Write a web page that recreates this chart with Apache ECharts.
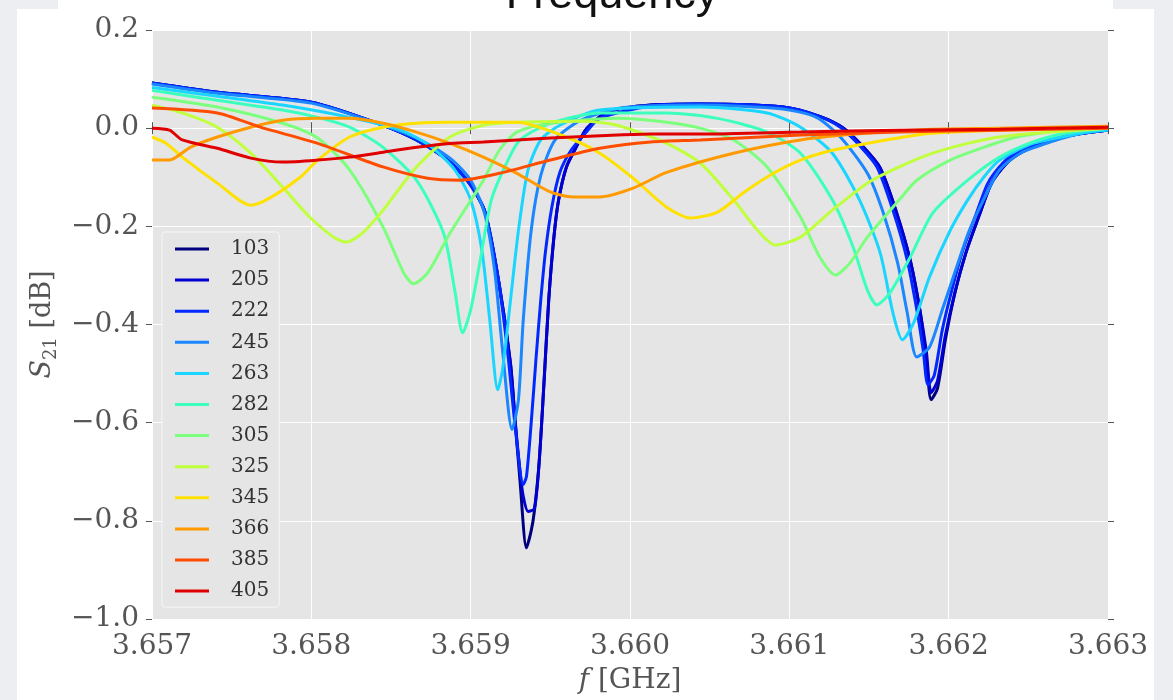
<!DOCTYPE html>
<html><head><meta charset="utf-8">
<script src="https://cdn.jsdelivr.net/npm/echarts@6/dist/echarts.min.js"></script>
<style>html,body{margin:0;padding:0;background:#eceef2;}#c{width:1173px;height:700px;}</style>
</head><body><div id="c"></div><script>
// Legend labels (temperature / power index)
const labels = ['103','205','222','245','263','282','305','325','345','366','385','405'];

// Each series: [f (GHz), S21 (dB)]
const s103 = [[3.65700,0.092],[3.65741,0.073],[3.65800,0.053],[3.65845,0.006],[3.65866,-0.024],[3.65887,-0.069],[3.65900,-0.116],[3.65909,-0.171],[3.65918,-0.32],[3.65925,-0.48],[3.65928,-0.60],[3.65931,-0.72],[3.65935,-0.855],[3.65938,-0.82],[3.65940,-0.78],[3.65943,-0.68],[3.65946,-0.52],[3.65949,-0.35],[3.65952,-0.23],[3.65955,-0.15],[3.65960,-0.08],[3.65966,-0.04],[3.65973,0.000],[3.65986,0.033],[3.66013,0.047],[3.66044,0.049],[3.66096,0.043],[3.66119,0.024],[3.66134,0.000],[3.66146,-0.037],[3.66157,-0.081],[3.66167,-0.169],[3.66176,-0.271],[3.66182,-0.372],[3.66186,-0.47],[3.66189,-0.553],[3.66193,-0.53],[3.66198,-0.43],[3.66204,-0.334],[3.66211,-0.252],[3.66219,-0.179],[3.66226,-0.118],[3.66231,-0.092],[3.66240,-0.061],[3.66255,-0.035],[3.66275,-0.016],[3.66300,-0.004]];
const s205 = [[3.65700,0.092],[3.65741,0.073],[3.65800,0.053],[3.65845,0.006],[3.65866,-0.024],[3.65887,-0.069],[3.65900,-0.116],[3.65909,-0.171],[3.65918,-0.32],[3.65925,-0.48],[3.65928,-0.60],[3.65931,-0.70],[3.65933,-0.75],[3.65936,-0.781],[3.65940,-0.775],[3.65943,-0.68],[3.65946,-0.52],[3.65949,-0.35],[3.65952,-0.23],[3.65955,-0.15],[3.65960,-0.08],[3.65966,-0.04],[3.65973,0.000],[3.65986,0.033],[3.66013,0.047],[3.66044,0.049],[3.66096,0.043],[3.66119,0.024],[3.66134,0.000],[3.66146,-0.037],[3.66157,-0.081],[3.66167,-0.169],[3.66176,-0.271],[3.66182,-0.372],[3.66186,-0.455],[3.66189,-0.539],[3.66193,-0.515],[3.66198,-0.421],[3.66204,-0.334],[3.66211,-0.252],[3.66219,-0.179],[3.66226,-0.118],[3.66231,-0.092],[3.66240,-0.061],[3.66255,-0.035],[3.66275,-0.016],[3.66300,-0.004]];
const s222 = [[3.65700,0.092],[3.65741,0.073],[3.65800,0.053],[3.65845,0.006],[3.65866,-0.024],[3.65887,-0.069],[3.65900,-0.116],[3.65909,-0.171],[3.65917,-0.30],[3.65923,-0.45],[3.65928,-0.61],[3.65933,-0.726],[3.65935,-0.71],[3.65938,-0.60],[3.65941,-0.47],[3.65944,-0.35],[3.65947,-0.25],[3.65951,-0.16],[3.65956,-0.09],[3.65963,-0.045],[3.65972,-0.01],[3.65981,0.020],[3.66013,0.045],[3.66044,0.049],[3.66096,0.043],[3.66117,0.026],[3.66132,0.002],[3.66144,-0.035],[3.66155,-0.079],[3.66165,-0.167],[3.66174,-0.269],[3.66180,-0.370],[3.66184,-0.452],[3.66187,-0.523],[3.66191,-0.503],[3.66196,-0.411],[3.66202,-0.330],[3.66209,-0.248],[3.66217,-0.177],[3.66224,-0.116],[3.66229,-0.090],[3.66238,-0.059],[3.66253,-0.035],[3.66274,-0.016],[3.66300,-0.004]];
const s245 = [[3.65700,0.090],[3.65741,0.071],[3.65800,0.051],[3.65845,0.006],[3.65866,-0.020],[3.65887,-0.061],[3.65900,-0.106],[3.65909,-0.177],[3.65915,-0.289],[3.65920,-0.452],[3.65926,-0.614],[3.65930,-0.553],[3.65933,-0.391],[3.65938,-0.208],[3.65944,-0.096],[3.65953,-0.024],[3.65969,0.016],[3.65994,0.041],[3.66044,0.047],[3.66096,0.039],[3.66117,0.022],[3.66132,-0.018],[3.66149,-0.092],[3.66159,-0.173],[3.66168,-0.275],[3.66174,-0.376],[3.66180,-0.466],[3.66188,-0.446],[3.66196,-0.370],[3.66205,-0.283],[3.66213,-0.208],[3.66224,-0.132],[3.66232,-0.085],[3.66245,-0.051],[3.66264,-0.028],[3.66284,-0.010],[3.66300,-0.004]];
const s263 = [[3.65700,0.083],[3.65741,0.065],[3.65782,0.047],[3.65824,0.022],[3.65856,-0.004],[3.65874,-0.035],[3.65890,-0.085],[3.65900,-0.146],[3.65907,-0.248],[3.65912,-0.391],[3.65917,-0.533],[3.65920,-0.492],[3.65925,-0.350],[3.65930,-0.208],[3.65936,-0.085],[3.65944,-0.024],[3.65956,0.006],[3.65981,0.037],[3.66044,0.043],[3.66086,0.031],[3.66107,0.002],[3.66127,-0.051],[3.66144,-0.146],[3.66157,-0.254],[3.66165,-0.376],[3.66171,-0.431],[3.66178,-0.397],[3.66188,-0.303],[3.66201,-0.208],[3.66212,-0.146],[3.66222,-0.100],[3.66232,-0.065],[3.66253,-0.031],[3.66284,-0.010],[3.66300,-0.004]];
const s282 = [[3.65700,0.077],[3.65741,0.057],[3.65782,0.037],[3.65804,0.022],[3.65824,0.002],[3.65845,-0.039],[3.65866,-0.106],[3.65883,-0.214],[3.65890,-0.330],[3.65895,-0.417],[3.65900,-0.370],[3.65906,-0.269],[3.65913,-0.146],[3.65922,-0.075],[3.65931,-0.024],[3.65950,0.010],[3.65981,0.031],[3.66023,0.031],[3.66055,0.020],[3.66086,-0.008],[3.66107,-0.051],[3.66127,-0.146],[3.66140,-0.242],[3.66149,-0.330],[3.66155,-0.360],[3.66163,-0.336],[3.66176,-0.262],[3.66190,-0.173],[3.66212,-0.106],[3.66232,-0.059],[3.66253,-0.028],[3.66274,-0.010],[3.66300,0.000]];
const s305 = [[3.65700,0.063],[3.65741,0.043],[3.65782,0.010],[3.65804,-0.020],[3.65824,-0.085],[3.65845,-0.201],[3.65858,-0.295],[3.65864,-0.317],[3.65873,-0.295],[3.65887,-0.214],[3.65908,-0.106],[3.65918,-0.045],[3.65929,-0.008],[3.65950,0.010],[3.65992,0.020],[3.66023,0.012],[3.66044,0.000],[3.66065,-0.024],[3.66086,-0.079],[3.66107,-0.181],[3.66119,-0.262],[3.66129,-0.299],[3.66138,-0.275],[3.66149,-0.222],[3.66169,-0.146],[3.66180,-0.106],[3.66201,-0.065],[3.66222,-0.039],[3.66243,-0.018],[3.66274,-0.004],[3.66300,0.002]];
const s325 = [[3.65700,0.047],[3.65719,0.031],[3.65741,0.002],[3.65762,-0.051],[3.65782,-0.120],[3.65799,-0.181],[3.65814,-0.222],[3.65822,-0.232],[3.65832,-0.214],[3.65845,-0.167],[3.65866,-0.079],[3.65887,-0.018],[3.65908,0.006],[3.65929,0.012],[3.65971,0.014],[3.65992,0.006],[3.66023,-0.031],[3.66044,-0.071],[3.66065,-0.146],[3.66080,-0.208],[3.66091,-0.238],[3.66107,-0.222],[3.66127,-0.167],[3.66149,-0.112],[3.66169,-0.079],[3.66190,-0.051],[3.66212,-0.031],[3.66232,-0.018],[3.66264,-0.008],[3.66300,0.000]];
const s345 = [[3.65700,-0.018],[3.65709,-0.031],[3.65719,-0.059],[3.65741,-0.112],[3.65762,-0.157],[3.65774,-0.142],[3.65793,-0.100],[3.65804,-0.065],[3.65824,-0.018],[3.65845,0.002],[3.65866,0.010],[3.65887,0.012],[3.65929,0.012],[3.65960,-0.018],[3.65981,-0.051],[3.66002,-0.102],[3.66023,-0.161],[3.66038,-0.183],[3.66055,-0.171],[3.66071,-0.132],[3.66090,-0.092],[3.66107,-0.065],[3.66127,-0.045],[3.66149,-0.031],[3.66180,-0.014],[3.66201,-0.008],[3.66232,-0.004],[3.66300,0.002]];
const s366 = [[3.65700,-0.065],[3.65711,-0.065],[3.65724,-0.039],[3.65741,-0.018],[3.65762,0.002],[3.65782,0.016],[3.65804,0.020],[3.65824,0.020],[3.65845,0.010],[3.65866,-0.008],[3.65887,-0.031],[3.65908,-0.059],[3.65929,-0.092],[3.65950,-0.130],[3.65964,-0.140],[3.65981,-0.140],[3.66002,-0.122],[3.66023,-0.090],[3.66065,-0.051],[3.66107,-0.024],[3.66149,-0.010],[3.66190,-0.002],[3.66232,0.000],[3.66300,0.004]];
const s385 = [[3.65700,0.041],[3.65741,0.031],[3.65768,0.002],[3.65804,-0.031],[3.65845,-0.079],[3.65873,-0.102],[3.65893,-0.106],[3.65918,-0.092],[3.65950,-0.065],[3.65981,-0.041],[3.66013,-0.028],[3.66044,-0.024],[3.66107,-0.014],[3.66169,-0.008],[3.66232,-0.004],[3.66300,0.000]];
const s405 = [[3.65700,0.000],[3.65711,-0.004],[3.65719,-0.024],[3.65741,-0.041],[3.65762,-0.061],[3.65782,-0.069],[3.65804,-0.065],[3.65824,-0.059],[3.65845,-0.049],[3.65866,-0.039],[3.65887,-0.031],[3.65908,-0.028],[3.65950,-0.020],[3.65992,-0.014],[3.66013,-0.012],[3.66044,-0.012],[3.66107,-0.008],[3.66169,-0.004],[3.66232,-0.002],[3.66300,0.002]];

const seriesData = [s103,s205,s222,s245,s263,s282,s305,s325,s345,s366,s385,s405];
const colors = ['#00007f','#0000d2','#0028ff','#1a86ff','#1ad6ff','#3cffbe','#7cff7c','#c0ff3c','#ffe100','#ff9a00','#ff4d00','#e00000'];

const serif = '"DejaVu Serif", serif';
const tickColor = '#555';
const chart = echarts.init(document.getElementById('c'), null, {renderer:'canvas'});
const xBase = {type:'value', min:3.657, max:3.663, interval:0.001, axisLine:{show:false},
  axisTick:{show:true, length:6, lineStyle:{color:tickColor, width:1}}};
const yBase = {type:'value', min:-1.0, max:0.2, interval:0.2, axisLine:{show:false},
  axisTick:{show:true, length:6, lineStyle:{color:tickColor, width:1}}};
const option = {
  animation:false,
  backgroundColor:'transparent',
  graphic:[
    {type:'rect', z:-100, silent:true, shape:{x:17,y:9,width:1137,height:691}, style:{fill:'#ffffff'}},
    {type:'rect', z:-100, silent:true, shape:{x:58,y:0,width:1055,height:12}, style:{fill:'#ffffff'}},
    {type:'text', z:-50, silent:true, x:612, y:-4, style:{text:'Frequency', font:'45px "Liberation Sans", Arial, sans-serif', fill:'#111', align:'center', verticalAlign:'middle'}}
  ],
  grid:{left:152, right:65, top:30, bottom:80, show:true, backgroundColor:'#e5e5e5', borderWidth:0},
  legend:{left:162, top:232, orient:'vertical', icon:'rect', itemWidth:34, itemHeight:3, itemGap:11.1,
    padding:[7,10,6,13], backgroundColor:'#e5e5e5', borderColor:'#f6f6f6', borderWidth:1, borderRadius:3,
    textStyle:{fontFamily:serif, fontSize:20, color:'#333', lineHeight:20, padding:[0,0,0,17]},
    data:labels},
  xAxis:[
    Object.assign({}, xBase, {position:'bottom',
      axisLabel:{formatter:v=>v.toFixed(3), fontFamily:serif, fontSize:28, color:tickColor, margin:14},
      splitLine:{show:true, lineStyle:{color:'#ffffff', width:1}},
      name:'{i|f} [GHz]', nameLocation:'middle', nameGap:48,
      nameTextStyle:{fontFamily:serif, fontSize:28, color:tickColor, rich:{i:{fontFamily:serif, fontStyle:'italic', fontSize:28, color:tickColor}}}}),
    Object.assign({}, xBase, {position:'top', axisLabel:{show:false}, splitLine:{show:false}})
  ],
  yAxis:[
    Object.assign({}, yBase, {position:'left',
      axisLabel:{formatter:v=>Math.abs(v)<1e-9?'0.0':(v<0?'\u2212':'')+Math.abs(v).toFixed(1), fontFamily:serif, fontSize:28, color:tickColor, margin:13},
      splitLine:{show:true, lineStyle:{color:'#ffffff', width:1}},
      name:'{s|S}{sub|21} [dB]', nameLocation:'middle', nameRotate:90, nameGap:88,
      nameTextStyle:{fontFamily:serif, fontSize:27, color:tickColor, rich:{
        s:{fontFamily:serif, fontStyle:'italic', fontSize:27, lineHeight:35, color:tickColor},
        sub:{fontFamily:serif, fontSize:18, lineHeight:18, verticalAlign:'bottom', color:tickColor}}}}),
    Object.assign({}, yBase, {position:'right', axisLabel:{show:false}, splitLine:{show:false}})
  ],
  series: seriesData.map((d,i)=>({
    name:labels[i], type:'line', data:d, showSymbol:false, smooth:0.25,
    lineStyle:{width:3, color:colors[i]}, itemStyle:{color:colors[i]}, z:2+i
  }))
};
chart.setOption(option);
</script></body></html>
